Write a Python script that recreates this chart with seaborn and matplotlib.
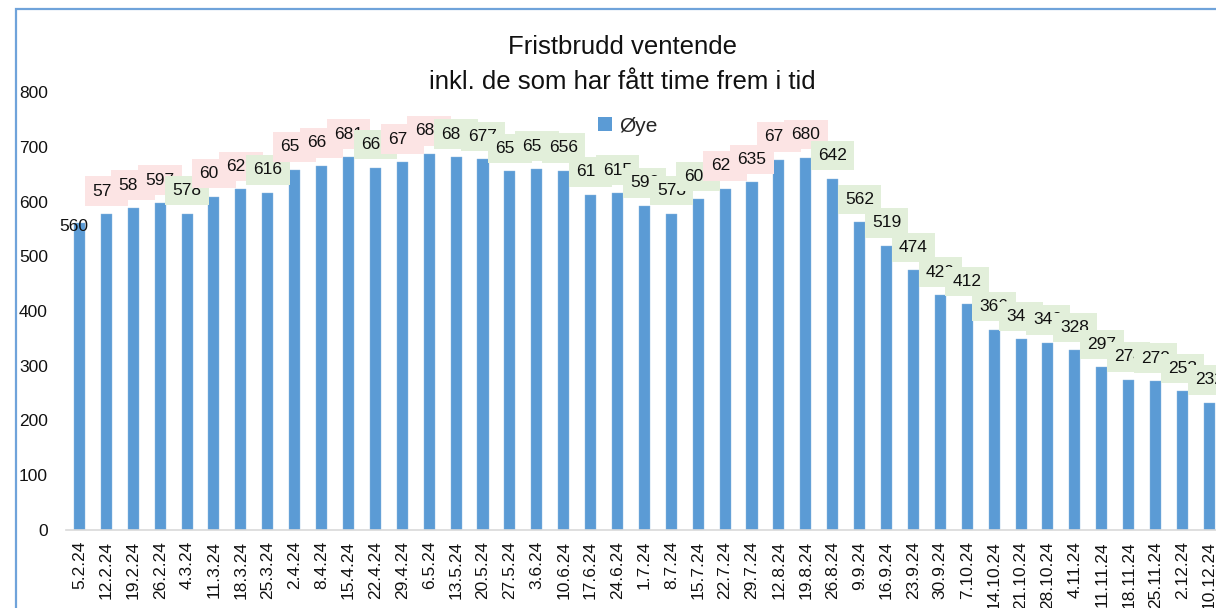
import matplotlib
matplotlib.use("Agg")
import matplotlib.pyplot as plt
from matplotlib.patches import Rectangle, Patch
import seaborn as sns
import pandas as pd

dates = ["5.2.24", "12.2.24", "19.2.24", "26.2.24", "4.3.24", "11.3.24", "18.3.24",
         "25.3.24", "2.4.24", "8.4.24", "15.4.24", "22.4.24", "29.4.24", "6.5.24",
         "13.5.24", "20.5.24", "27.5.24", "3.6.24", "10.6.24", "17.6.24", "24.6.24",
         "1.7.24", "8.7.24", "15.7.24", "22.7.24", "29.7.24", "12.8.24", "19.8.24",
         "26.8.24", "9.9.24", "16.9.24", "23.9.24", "30.9.24", "7.10.24", "14.10.24",
         "21.10.24", "28.10.24", "4.11.24", "11.11.24", "18.11.24", "25.11.24",
         "2.12.24", "10.12.24"]
values = [560, 577, 588, 597, 578, 609, 622, 616, 658, 665, 681, 662, 672, 687,
          681, 677, 655, 659, 656, 612, 615, 592, 578, 604, 623, 635, 676, 680,
          642, 562, 519, 474, 429, 412, 366, 348, 342, 328, 297, 274, 272, 253, 232]
# label box shading: "" = none, "r" = red tint, "g" = green tint
label_tint = ["", "r", "r", "r", "g", "r", "r", "g", "r", "r", "r", "g", "r", "r",
              "g", "g", "g", "g", "g", "g", "g", "g", "g", "g", "r", "r", "r", "r",
              "g", "g", "g", "g", "g", "g", "g", "g", "g", "g", "g", "g", "g", "g", "g"]
series_name = "Øye"
title_lines = ["Fristbrudd ventende", "inkl. de som har fått time frem i tid"]

sns.set_style("white")
plt.rcParams["font.family"] = ["Liberation Sans", "DejaVu Sans"]

W, H = 1216, 608
fig = plt.figure(figsize=(W / 100, H / 100), dpi=100)
ax = fig.add_axes([66 / W, (H - 530) / H, (1222.8 - 66) / W, (530 - 92) / H])

df = pd.DataFrame({"date": dates, "value": values})
bar_color = "#5B9BD5"
sns.barplot(data=df, x="date", y="value", color=bar_color, width=0.41, ax=ax,
            saturation=1, edgecolor="#8DB8E2", linewidth=0.3)

ax.set_xlim(-0.5, len(dates) - 0.5)
ax.set_ylim(0, 800)
ax.set_yticks(range(0, 801, 100))
ax.set_xlabel("")
ax.set_ylabel("")
txt_color = "#111111"
ax.tick_params(axis="y", length=0, pad=13, labelsize=12.5, labelcolor=txt_color)
ax.tick_params(axis="x", length=0, pad=8, labelsize=12.5, labelcolor=txt_color,
               labelrotation=90)
for lab in ax.get_xticklabels():
    lab.set_va("top")
for s in ["top", "right", "left"]:
    ax.spines[s].set_visible(False)
ax.spines["bottom"].set_color("#D9D9D9")
ax.spines["bottom"].set_linewidth(1.2)

tints = {"r": "#FCE4E4", "g": "#E2EFDA"}
for i, (v, t) in enumerate(zip(values, label_tint)):
    if t == "":
        ax.annotate(str(v), xy=(i, v), xytext=(-6, -3), textcoords="offset pixels",
                    ha="center", va="center", fontsize=12.5, color=txt_color,
                    annotation_clip=False, zorder=5)
    else:
        ax.annotate(str(v), xy=(i, v), xytext=(0, 23), textcoords="offset pixels",
                    ha="center", va="center", fontsize=12.5, color=txt_color,
                    annotation_clip=False, zorder=5,
                    bbox=dict(boxstyle="square,pad=0.42", fc=tints[t], ec="none"))

fig.text(622 / W, 1 - 47 / H, title_lines[0], ha="center", va="center",
         fontsize=18.5, color=txt_color)
fig.text(622 / W, 1 - 82 / H, title_lines[1], ha="center", va="center",
         fontsize=18.5, color=txt_color)

handle = Patch(facecolor=bar_color, edgecolor="none", label=series_name)
fig.legend(handles=[handle], loc="center", bbox_to_anchor=(628 / W, 1 - 126 / H),
           frameon=False, fontsize=15, handlelength=0.68, handleheight=0.68,
           handletextpad=0.35, borderpad=0, borderaxespad=0)

fig.add_artist(Rectangle((15.5 / W, -0.2), 1.5, 1.2 - 8.5 / H, transform=fig.transFigure,
                         fill=False, edgecolor="#6FA3DA", linewidth=1.6))

fig.savefig("out.png", dpi=100, facecolor="white")
